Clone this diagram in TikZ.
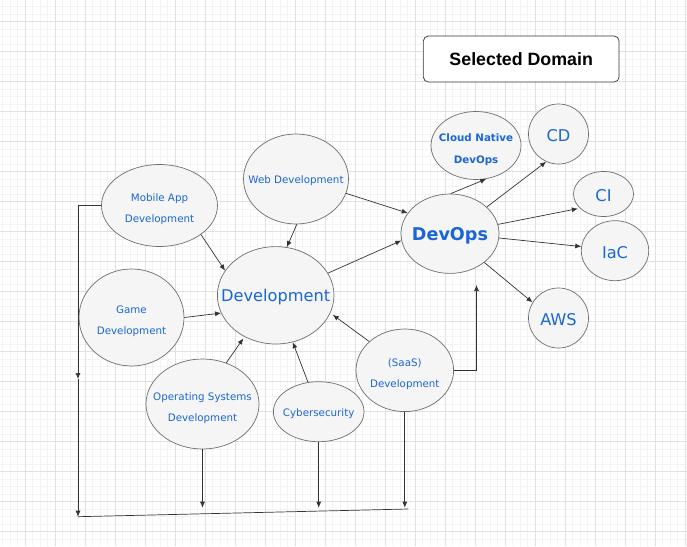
\documentclass[tikz,border=0pt]{standalone}
\usepackage{fontspec}
\setmainfont{DejaVu Sans}
\newfontfamily\titlefont{Liberation Sans}
\usetikzlibrary{shapes.geometric,arrows.meta}
\definecolor{txtblue}{HTML}{1A66D6}
\definecolor{bubblefill}{HTML}{F5F5F5}
\definecolor{bubbleline}{HTML}{6E6E6E}
\definecolor{wire}{HTML}{333333}
\definecolor{gridmajor}{HTML}{E0E0E0}
\definecolor{gridminor}{HTML}{F3F3F3}
\begin{document}
\begin{tikzpicture}[x=1pt,y=-1pt,
  bubble/.style={ellipse,draw=bubbleline,fill=bubblefill,line width=0.7pt,inner sep=0pt},
  small/.style={font=\fontsize{10.3}{21}\selectfont,align=center,text=txtblue,yshift=-4pt},
  smallone/.style={font=\fontsize{10.3}{21}\selectfont,text=txtblue,yshift=-2pt},
  smallbold/.style={font=\bfseries\fontsize{10.3}{21.7}\selectfont,align=center,text=txtblue,yshift=-4pt},
  big/.style={font=\fontsize{16.2}{19}\selectfont,text=txtblue,yshift=-2pt},
  arr/.style={-{Latex[length=6pt,width=5pt]},color=wire,line width=0.7pt},
  flat/.style={-,color=wire,line width=0.7pt}]

\useasboundingbox (0,0) rectangle (687,546);
\fill[white] (0,0) rectangle (687,546);
\foreach \gx in {2.5,10,...,687} \draw[gridminor,line width=0.8pt] (\gx,0) -- (\gx,546);
\foreach \gy in {6.7,14.2,...,546} \draw[gridminor,line width=0.8pt] (0,\gy) -- (687,\gy);
\foreach \gx in {25,55,...,687} \draw[gridmajor,line width=0.8pt] (\gx,0) -- (\gx,546);
\foreach \gy in {21.7,51.7,...,546} \draw[gridmajor,line width=0.8pt] (0,\gy) -- (687,\gy);

\node[draw=wire,fill=white,rounded corners=5pt,line width=0.7pt,minimum width=195.7pt,minimum height=46pt,font=\titlefont\bfseries\fontsize{17.8}{20}\selectfont] (domain) at (521.2,59) {Selected Domain};

\node[bubble,minimum width=116pt,minimum height=82pt,label={[small]center:Mobile App\\Development}] (mobile) at (159.5,205.5) {};
\node[bubble,minimum width=105pt,minimum height=90pt,label={[smallone]center:Web Development}] (web) at (296,179) {};
\node[bubble,minimum width=116.6pt,minimum height=97.4pt,label={[big]center:Development}] (dev) at (275.7,295.3) {};
\node[bubble,minimum width=105pt,minimum height=97pt,label={[small]center:Game\\Development}] (game) at (131.5,317.5) {};
\node[bubble,minimum width=113pt,minimum height=90pt,label={[small]center:Operating Systems\\Development}] (os) at (202.5,404) {};
\node[bubble,minimum width=90.6pt,minimum height=60pt,label={[smallone]center:Cybersecurity}] (cyber) at (318.7,411.7) {};
\node[bubble,minimum width=97.6pt,minimum height=82.6pt,label={[small]center:(SaaS)\\Development}] (saas) at (404.8,370.3) {};

\node[bubble,minimum width=98pt,minimum height=79.4pt,label={[big,font=\bfseries\fontsize{17.6}{20}\selectfont]center:DevOps}] (devops) at (450,233.7) {};
\node[bubble,minimum width=90pt,minimum height=68pt,label={[smallbold]center:Cloud Native\\DevOps}] (cloud) at (476,145.5) {};
\node[bubble,minimum width=60pt,minimum height=60pt,label={[big]center:CD}] (cd) at (558.5,134) {};
\node[bubble,minimum width=60pt,minimum height=45pt,label={[big]center:CI}] (ci) at (603.5,194) {};
\node[bubble,minimum width=67.4pt,minimum height=60pt,label={[big]center:IaC}] (iac) at (615,250.7) {};
\node[bubble,minimum width=60pt,minimum height=60pt,label={[big]center:AWS}] (aws) at (558.5,318) {};

\coordinate (leftmid) at (78,379);
\coordinate (leftlow) at (78,516.7);
\coordinate (lowend) at (408.3,509);
\coordinate (osdown) at (202.5,507.7);
\coordinate (cyberdown) at (318.7,507.7);
\coordinate (saasdown) at (404.8,507.7);
\coordinate (devopsin) at (476.5,285);

\draw[arr] (mobile.-35) -- (dev.154);
\draw[arr] (web.-89) -- (dev.77);
\draw[arr] (game.east) -- (dev.198);
\draw[arr,shorten >=2pt] (os.60) -- (dev.-127);
\draw[arr] (cyber.110) -- (dev.-70);
\draw[arr,shorten >=3pt] (saas.141) -- (dev.-18);
\draw[arr] (dev.23) -- (devops.188);
\draw[arr] (web.-16) -- (devops.154);
\draw[arr] (saas.east) -| (devopsin);

\draw[arr] (devops.89) -- (cloud.-73);
\draw[arr] (devops.36) -- (cd.-114);
\draw[arr,shorten >=2pt] (devops.11) -- (ci.-149);
\draw[arr] (devops.-5) -- (iac.173);
\draw[arr] (devops.-40) -- (aws.149);

\draw[arr] (mobile.west) -| (leftmid);
\draw[arr] (leftmid) -- (leftlow);
\draw[flat] (leftlow) -- (lowend);
\draw[arr] (os.south) -- (osdown);
\draw[arr] (cyber.south) -- (cyberdown);
\draw[arr] (saas.south) -- (saasdown);

\end{tikzpicture}
\end{document}
